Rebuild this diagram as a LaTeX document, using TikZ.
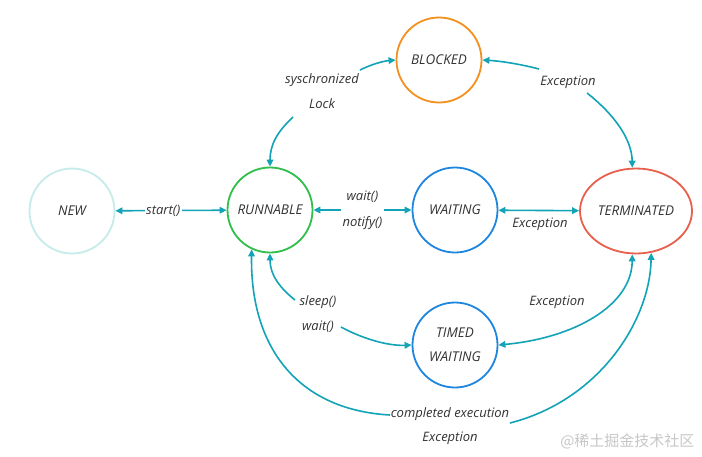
\documentclass[tikz,border=0pt]{standalone}
\usepackage{fontspec}
\setmainfont{Open Sans}
\newfontfamily\cjkfont{Noto Sans CJK SC}
\usetikzlibrary{arrows.meta,shapes.geometric}
\definecolor{cNew}{HTML}{C6ECEA}
\definecolor{cRun}{HTML}{2FBF4A}
\definecolor{cBlk}{HTML}{F4901E}
\definecolor{cWait}{HTML}{1F86E0}
\definecolor{cTerm}{HTML}{E8604C}
\definecolor{cArr}{HTML}{12A4B6}
\definecolor{cTxt}{HTML}{333333}
\begin{document}
\begin{tikzpicture}[x=1pt,y=-1pt,
  every node/.style={font=\fontsize{13}{15}\selectfont\itshape, text=cTxt},
  capsfont/.style={font=\fontsize{13.5}{15}\selectfont\itshape},
  state/.style={circle, line width=1.8pt, minimum size=85pt, inner sep=0pt, align=center, capsfont},
  lbl/.style={align=center, inner sep=1pt},
  lblw/.style={align=center, inner sep=1.5pt, fill=white},
  arr/.style={draw=cArr, line width=1.6pt, -{Triangle[length=7pt,width=6.5pt]}},
  darr/.style={draw=cArr, line width=1.6pt, {Triangle[length=7pt,width=6.5pt]}-{Triangle[length=7pt,width=6.5pt]}}]
\useasboundingbox (0,0) rectangle (702,456);
\fill[white] (0,0) rectangle (702,456);
% states
\node[state, draw=cNew] (new) at (72,211) {NEW};
\node[state, draw=cRun] (runnable) at (270,210) {RUNNABLE};
\node[state, draw=cBlk] (blocked) at (439,60) {BLOCKED};
\node[state, draw=cWait] (waiting) at (455,210) {WAITING};
\node[ellipse, line width=1.8pt, draw=cTerm, minimum width=112pt, minimum height=85pt, inner sep=0pt, capsfont] (terminated) at (636,211) {TERMINATED};
\node[state, draw=cWait, font=\fontsize{13.5}{24}\selectfont\itshape] (timed) at (455,345) {TIMED\\WAITING};
% straight connectors
\draw[darr] (new) -- node[lblw, pos=0.43] {start()} (runnable);
\draw[darr] (runnable) -- node[lblw, font=\fontsize{13}{26}\selectfont\itshape] {wait()\\notify()} (waiting);
\draw[darr] (waiting) -- (terminated);
\node[lbl] (exW) at (540,224) {Exception};
% synchronized
\node[lbl, font=\fontsize{13}{25}\selectfont\itshape] (syn) at (322,91) {syschronized\\Lock};
\coordinate (synA) at (293,117);
\coordinate (synB) at (360,70);
\draw[arr] (synA) .. controls (277,132) and (270,145) .. (runnable.north);
\draw[arr] (synB) .. controls (372,64) and (384,61) .. (blocked.west);
% blocked - terminated
\node[lbl] (exB) at (568,82) {Exception};
\coordinate (exBA) at (539,69);
\coordinate (exBB) at (587,93);
\draw[arr] (exBA) .. controls (520,64) and (500,61) .. (blocked.east);
\draw[arr] (exBB) .. controls (615,115) and (632,140) .. (terminated.95);
% sleep / wait
\node[lbl, font=\fontsize{13}{25}\selectfont\itshape] (slp) at (318,314) {sleep()\\wait()};
\coordinate (slA) at (295,300);
\coordinate (slB) at (341,327);
\draw[arr] (slA) .. controls (280,288) and (270,275) .. (runnable.south);
\draw[arr] (slB) .. controls (365,340) and (390,346) .. (timed.west);
% timed - terminated
\draw[darr] (timed.east) .. controls (575,338) and (632,305) .. (terminated.265);
\node[lbl] (exT) at (557,302) {Exception};
% completed execution
\node[lbl, font=\fontsize{13}{24}\selectfont\itshape] (ce) at (450,426) {completed execution\\Exception};
\coordinate (ceA) at (390,415);
\coordinate (ceB) at (510,423);
\draw[arr] (ceA) .. controls (300,410) and (250,350) .. (runnable.245);
\draw[arr] (ceB) .. controls (600,400) and (650,320) .. (terminated.290);
% watermark
\node[font=\fontsize{15}{16}\cjkfont, text=black!22, anchor=east] (wm) at (698,441) {@稀土掘金技术社区};
\end{tikzpicture}
\end{document}
